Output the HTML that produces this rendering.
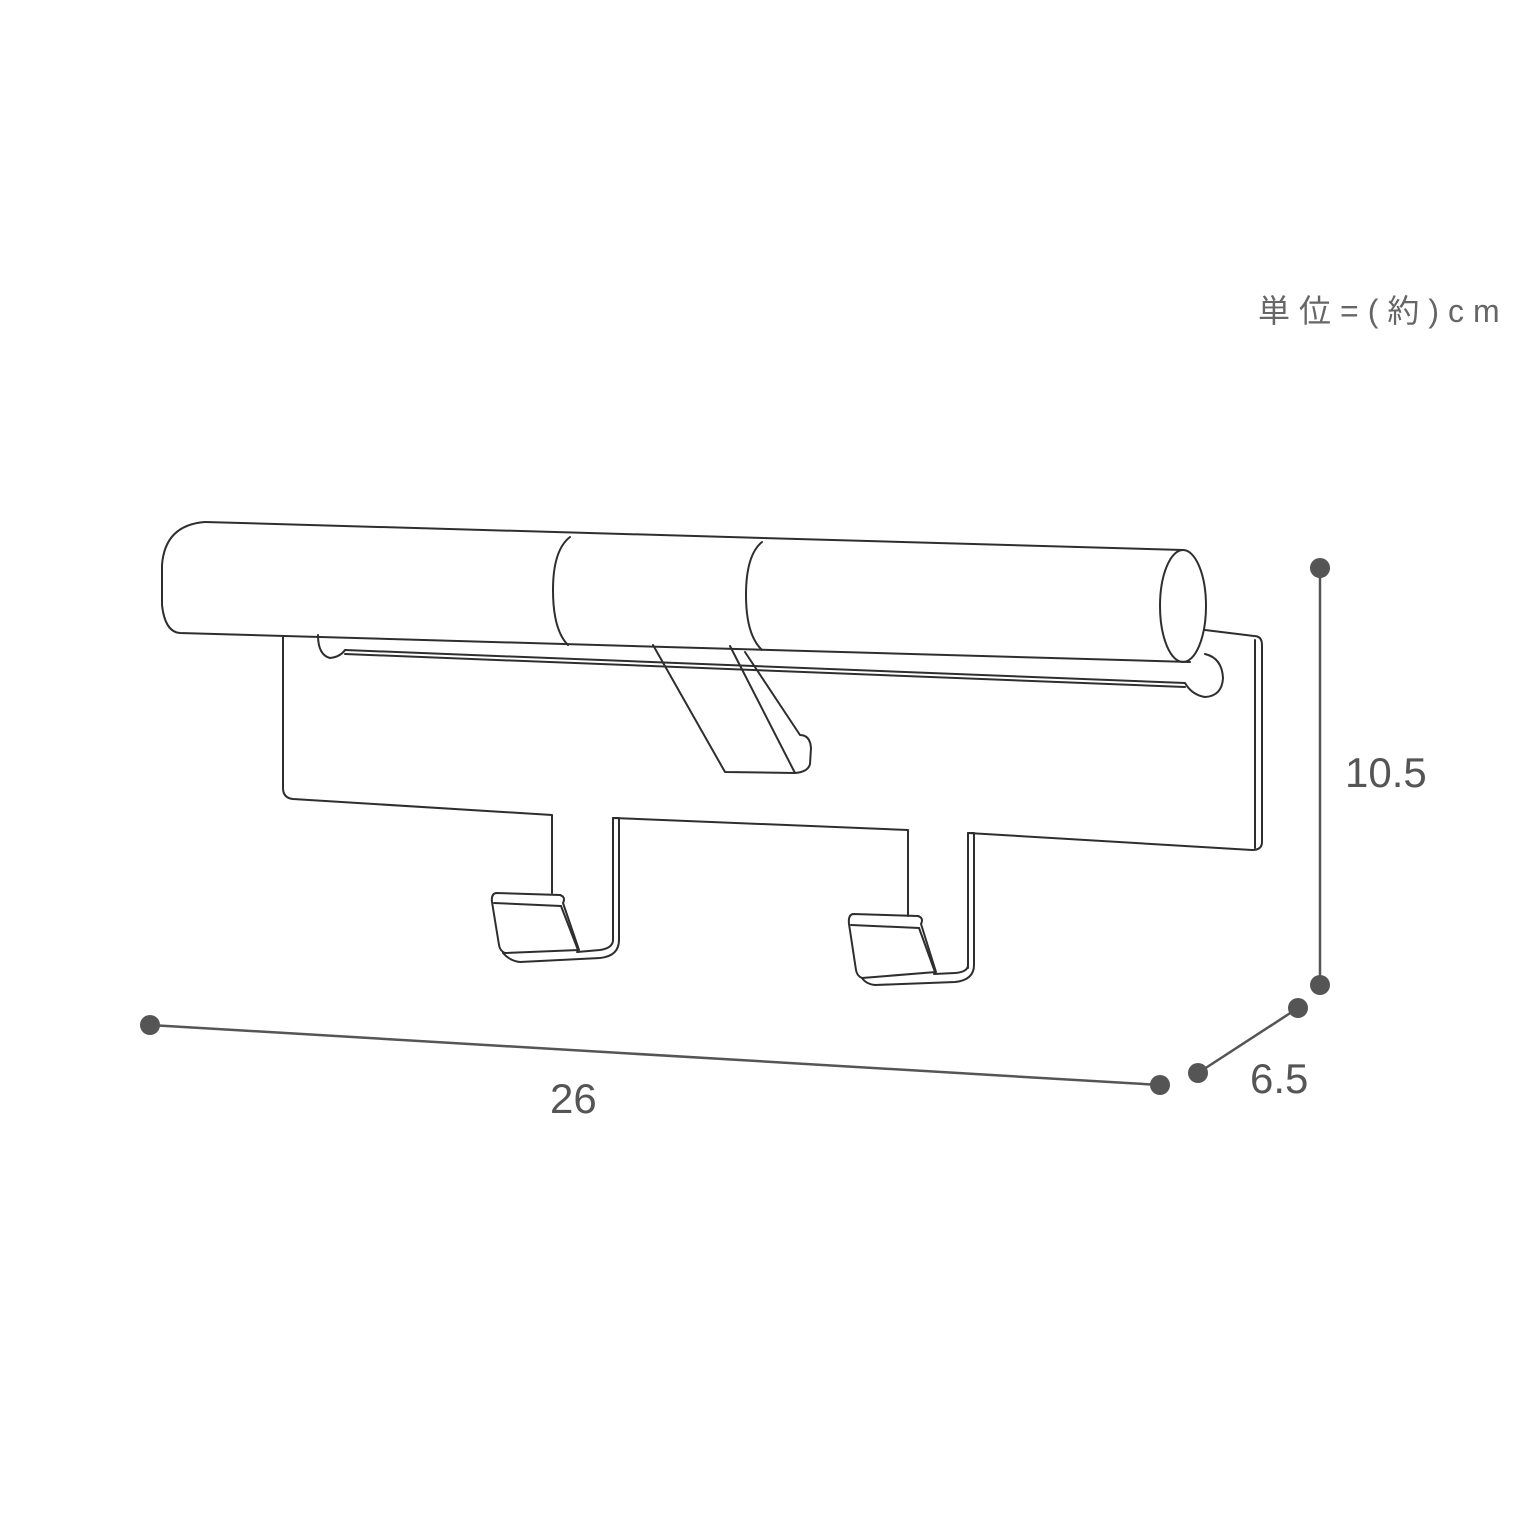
<!DOCTYPE html>
<html><head><meta charset="utf-8"><style>
html,body{margin:0;padding:0;background:#fff;}
svg{display:block}
</style></head><body>
<svg width="1536" height="1536" viewBox="0 0 1536 1536" xmlns="http://www.w3.org/2000/svg">
<g fill="none" stroke="#2e2e2e" stroke-width="2" stroke-linejoin="round" stroke-linecap="round">
  <path d="M283 636 L283 788 Q283 798 293 799 L552 815 L552 893"/>
  <path d="M613 940 L613 818 L908 830 L908 916"/>
  <path d="M968 968 L968 833 L1252 850 Q1262 850 1262 842 L1262 645 Q1262 636 1254 636 L1205 630"/>
  <path d="M1255 640 L1255 848"/>
  <path d="M613 818 L619 818 L619 940"/>
  <path d="M968 833 L974 833 L974 965"/>
  <path d="M613 940 Q613 948 600 950 L577 952"/>
  <path d="M619 940 Q619 956 600 958 L520 962 Q510 961 503 953"/>
  <path d="M496 893 L560 895 Q566 897 563 903 L579 950 L505 953 Q500 951 499 945 L492 902 Q491 894 496 893 Z"/>
  <path d="M494 903 L561 906"/>
  <path d="M561 906 L578 950"/>
  <path d="M968 965 Q968 972 955 973 L934 974"/>
  <path d="M974 965 Q974 980 955 982 L875 985 Q866 984 862 978"/>
  <path d="M853 914 L918 916 Q924 918 921 924 L936 972 L862 978 Q857 976 856 970 L849 924 Q848 915 853 914 Z"/>
  <path d="M851 925 L919 928"/>
  <path d="M919 928 L935 972"/>
  <path d="M318 635 Q318 655 330 658 Q340 657 345 650 L1185 683 Q1192 695 1205 697 Q1222 696 1223 678 Q1222 658 1205 654"/>
  <path d="M345 654 L1185 687"/>
  <path d="M653 645 L725 772 L795 773 L730 646"/>
  <path d="M745 652 L800 735 Q810 735 811 748 L810 764 Q808 772 795 773"/>
  <path d="M205 522 L1183 550"/>
  <path d="M205 522 Q165 525 162 565 L162 605 Q165 632 180 633 L1190 662"/>
  <ellipse cx="1183" cy="606" rx="23" ry="56"/>
  <path d="M570 537 Q553 550 553 590 Q553 630 568 645"/>
  <path d="M762 542 Q746 555 746 595 Q746 635 762 650"/>
</g>
<g stroke="#555" stroke-width="2.5" fill="none">
  <line x1="1320" y1="568" x2="1320" y2="985"/>
  <line x1="150" y1="1025" x2="1160" y2="1085"/>
  <line x1="1298" y1="1008" x2="1198" y2="1073"/>
</g>
<g fill="#555">
  <circle cx="1320" cy="568" r="10"/>
  <circle cx="1320" cy="985" r="10"/>
  <circle cx="150" cy="1025" r="10"/>
  <circle cx="1160" cy="1085" r="10"/>
  <circle cx="1298" cy="1008" r="10"/>
  <circle cx="1198" cy="1073" r="10"/>
</g>
<g fill="#555" font-family="'Liberation Sans','Noto Sans CJK JP',sans-serif">
  <text x="1345" y="787" font-size="42">10.5</text>
  <text x="550" y="1113" font-size="42">26</text>
  <text x="1250" y="1093" font-size="42">6.5</text>
  <text x="1258" y="322" font-size="32" letter-spacing="9" fill="#666">単位=(約)cm</text>
</g>
</svg>
</body></html>
